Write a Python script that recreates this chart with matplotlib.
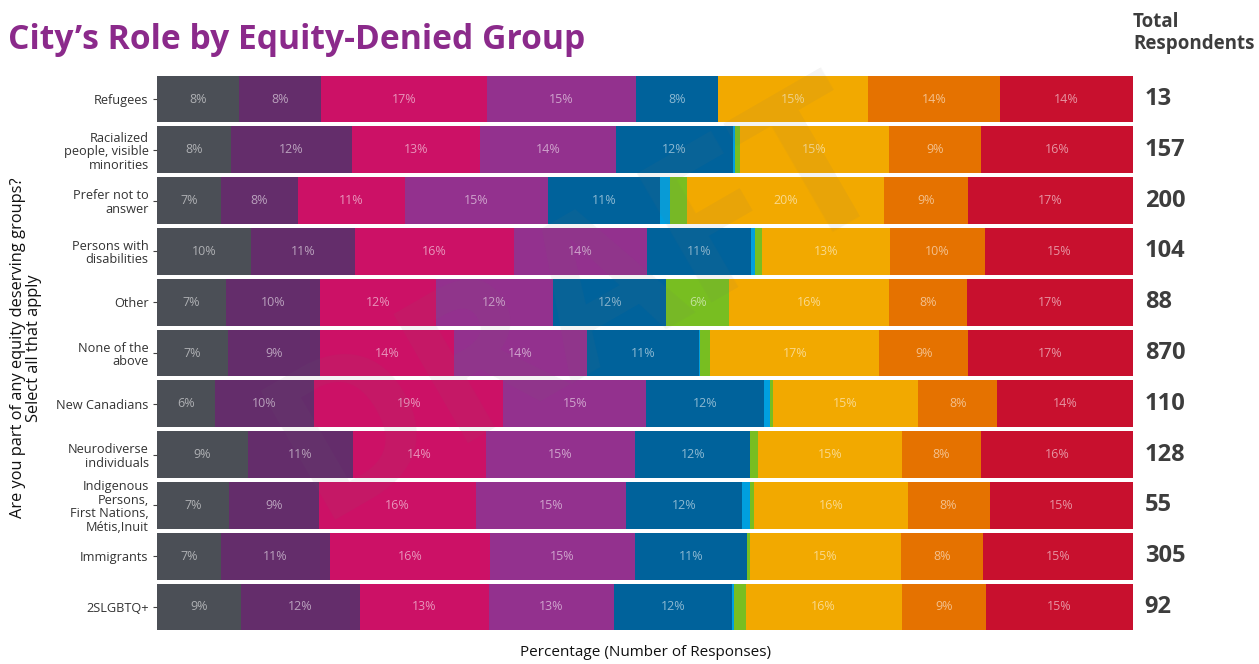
import matplotlib
matplotlib.use("Agg")
import matplotlib.pyplot as plt
import numpy as np

plt.rcParams['font.family'] = ['Open Sans', 'DejaVu Sans']

# groups, top to bottom
groups = ['Refugees', 'Racialized\npeople, visible\nminorities', 'Prefer not to\nanswer',
          'Persons with\ndisabilities', 'Other', 'None of the\nabove', 'New Canadians',
          'Neurodiverse\nindividuals', 'Indigenous\nPersons,\nFirst Nations,\nMétis,Inuit',
          'Immigrants', '2SLGBTQ+']
totals = [13, 157, 200, 104, 88, 870, 110, 128, 55, 305, 92]

# percentage of responses for each answer, one list per answer (same group order)
seg_gray = [8.4, 7.6, 6.6, 9.6, 7.1, 7.3, 5.9, 9.3, 7.4, 6.6, 8.6]
seg_plum = [8.4, 12.4, 7.8, 10.7, 9.6, 9.4, 10.2, 10.8, 9.2, 11.1, 12.2]
seg_magenta = [17.0, 13.1, 11.0, 16.3, 11.9, 13.7, 19.4, 13.6, 16.1, 16.4, 13.2]
seg_purple = [15.3, 13.9, 14.7, 13.6, 12.0, 13.7, 14.6, 15.3, 15.4, 14.9, 12.8]
seg_blue = [8.4, 12.0, 11.4, 10.7, 11.6, 11.4, 12.1, 11.8, 11.8, 11.4, 12.1]
seg_skyblue = [0.0, 0.2, 1.1, 0.4, 0.0, 0.1, 0.6, 0.0, 0.9, 0.0, 0.2]
seg_green = [0.0, 0.5, 1.7, 0.7, 6.4, 1.1, 0.3, 0.8, 0.4, 0.4, 1.2]
seg_yellow = [15.3, 15.3, 20.2, 13.1, 16.4, 17.3, 14.9, 14.7, 15.7, 15.4, 16.0]
seg_orange = [13.6, 9.4, 8.6, 9.7, 8.0, 9.1, 8.1, 8.1, 8.4, 8.4, 8.6]
seg_red = [13.6, 15.6, 16.9, 15.2, 17.0, 16.9, 13.9, 15.6, 14.7, 15.4, 15.1]

series = [seg_gray, seg_plum, seg_magenta, seg_purple, seg_blue,
          seg_skyblue, seg_green, seg_yellow, seg_orange, seg_red]
colors = ['#4b4f56', '#642d6b', '#cc1166', '#93318e', '#00629b',
          '#009fdf', '#78be21', '#f2a900', '#e57200', '#c8102e']

fig = plt.figure(figsize=(12.59, 6.64), dpi=100)
ax = fig.add_axes([157 / 1259, 0.0476, 976 / 1259, 0.8415])

y = np.arange(len(groups))
left = np.zeros(len(groups))
for vals, col in zip(series, colors):
    vals = np.array(vals)
    ax.barh(y, vals, left=left, height=0.92, color=col, linewidth=0)
    for yi, (l, v) in enumerate(zip(left, vals)):
        if v >= 4:
            ax.text(l + v / 2, yi, f'{v:.0f}%', ha='center', va='center',
                    fontsize=9, color='white', alpha=0.55)
    left += vals

ax.set_xlim(0, 100)
ax.set_ylim(len(groups) - 0.5, -0.5)
ax.set_yticks(y)
ax.set_yticklabels(groups, fontsize=9.2, color='#333333', linespacing=1.05)
ax.tick_params(axis='y', length=3, color='#444444', pad=3)
ax.set_xticks([])
for s in ax.spines.values():
    s.set_visible(False)

# respondent counts right of the bars
for yi, n in enumerate(totals):
    ax.text(101.2, yi, str(n), ha='left', va='center', fontsize=17,
            fontweight='bold', color='#3d3d3d')

fig.text(1133 / 1259, 1 - 33 / 664, 'Total\nRespondents', ha='left', va='center',
         fontsize=13.5, fontweight='bold', color='#3d3d3d', linespacing=1.15)

fig.text(8 / 1259, 1 - 40 / 664, 'City\u2019s Role by Equity-Denied Group', ha='left',
         va='center', fontsize=24.2, fontweight='bold', color='#8b2a8b')

fig.text(26 / 1259, 1 - 348 / 664,
         'Are you part of any equity deserving groups?\nSelect all that apply',
         rotation=90, ha='center', va='center', fontsize=11.8, color='#111111',
         linespacing=1.0)
fig.text(645 / 1259, 1 - 653 / 664, 'Percentage (Number of Responses)',
         ha='center', va='center', fontsize=11, color='#111111')

# faint watermark
fig.text(0.46, 0.54, 'DRAFT', ha='center', va='center', fontsize=150,
         fontweight='bold', rotation=30, color='#707070', alpha=0.08)

fig.savefig('out.png', dpi=100)
